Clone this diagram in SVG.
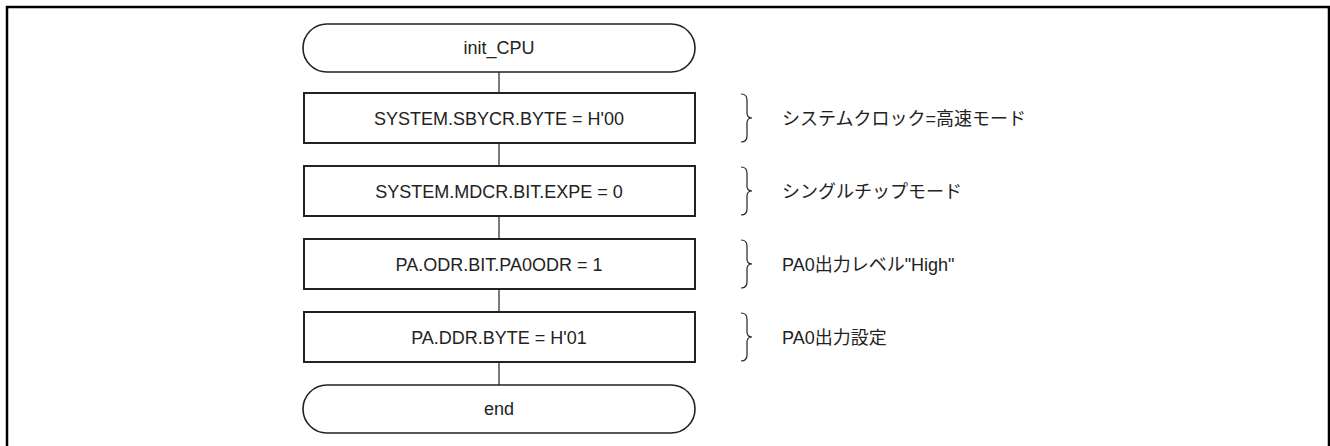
<svg xmlns="http://www.w3.org/2000/svg" width="1330" height="446" viewBox="0 0 1330 446">
<style>
.frame{fill:none;stroke:#000;stroke-width:2.5}
.term{fill:#fff;stroke:#222;stroke-width:1.6}
.box{fill:#fff;stroke:#222;stroke-width:2}
.conn{stroke:#222;stroke-width:1.2;fill:none}
.brace{stroke:#222;stroke-width:1.2;fill:none}
.t{font-family:"Liberation Sans",Arial,sans-serif;font-size:18px;fill:#222;text-anchor:middle}
.n{font-family:"Liberation Sans","Noto Sans CJK JP",sans-serif;font-size:18px;fill:#222}
</style>
<rect width="1330" height="446" fill="#fff"/>
<path class="frame" d="M7,446 V7 H1329 V446"/>
<g id="connectors">
<line class="conn" x1="499" y1="72" x2="499" y2="93"/>
<line class="conn" x1="499" y1="143" x2="499" y2="166"/>
<line class="conn" x1="499" y1="216" x2="499" y2="239"/>
<line class="conn" x1="499" y1="289" x2="499" y2="312"/>
<line class="conn" x1="499" y1="362" x2="499" y2="385"/>
</g>
<g id="start">
<rect class="term" x="303" y="24" width="392" height="48" rx="24" ry="24"/>
<text class="t" x="499" y="54">init_CPU</text>
</g>
<g id="step1">
<rect class="box" x="304" y="93" width="391" height="50"/>
<text class="t" x="499" y="124.5">SYSTEM.SBYCR.BYTE = H'00</text>
</g>
<g id="step2">
<rect class="box" x="304" y="166" width="391" height="50"/>
<text class="t" x="499" y="197.5">SYSTEM.MDCR.BIT.EXPE = 0</text>
</g>
<g id="step3">
<rect class="box" x="304" y="239" width="391" height="50"/>
<text class="t" x="499" y="270.5">PA.ODR.BIT.PA0ODR = 1</text>
</g>
<g id="step4">
<rect class="box" x="304" y="312" width="391" height="50"/>
<text class="t" x="499" y="343.5">PA.DDR.BYTE = H'01</text>
</g>
<g id="end">
<rect class="term" x="303" y="385" width="392" height="48" rx="24" ry="24"/>
<text class="t" x="499" y="415">end</text>
</g>
<g id="note1">
<path class="brace" d="M741,94 Q747,94 747,100 V113 Q747,118 752,118 Q747,118 747,123 V136 Q747,142 741,142"/>
<text class="n" x="782" y="125">システムクロック=高速モード</text>
</g>
<g id="note2">
<path class="brace" d="M741,167 Q747,167 747,173 V186 Q747,191 752,191 Q747,191 747,196 V209 Q747,215 741,215"/>
<text class="n" x="782" y="198">シングルチップモード</text>
</g>
<g id="note3">
<path class="brace" d="M741,240 Q747,240 747,246 V259 Q747,264 752,264 Q747,264 747,269 V282 Q747,288 741,288"/>
<text class="n" x="782" y="271">PA0出力レベル"High"</text>
</g>
<g id="note4">
<path class="brace" d="M741,313 Q747,313 747,319 V332 Q747,337 752,337 Q747,337 747,342 V355 Q747,361 741,361"/>
<text class="n" x="782" y="344">PA0出力設定</text>
</g>
</svg>
